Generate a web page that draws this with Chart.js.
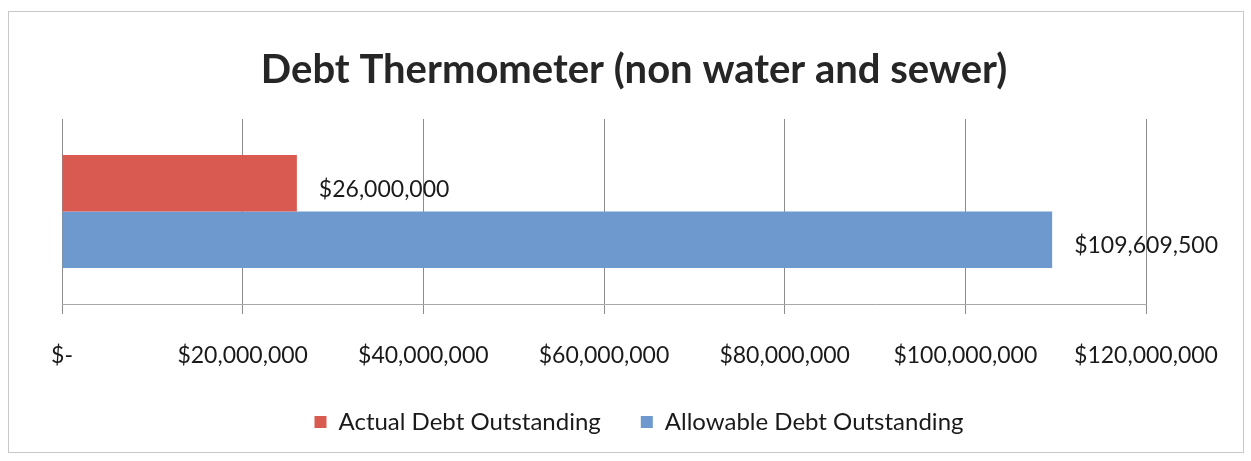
<!DOCTYPE html>
<html>
<head>
<meta charset="utf-8">
<script src="https://cdn.jsdelivr.net/npm/chart.js@4/dist/chart.umd.min.js"></script>
<style>
  html, body { margin: 0; padding: 0; background: #fff; }
  #wrap { position: relative; width: 1251px; height: 461px; }
  #frame { position: absolute; left: 8px; top: 11px; width: 1236px; height: 442px; border: 1px solid #c8c8c8; box-sizing: border-box; pointer-events: none; }
  canvas { position: absolute; left: 0; top: 0; }
</style>
</head>
<body>
<div id="wrap">
  <canvas id="c" width="1251" height="461"></canvas>
  <div id="frame"></div>
</div>
<script>
// Debt figures
const categories = ['Debt'];
const seriesNames = ['Actual Debt Outstanding', 'Allowable Debt Outstanding'];
const actualDebt = [26000000];
const allowableDebt = [109609500];
const tickValues = [0, 20000000, 40000000, 60000000, 80000000, 100000000, 120000000];
const tickLabels = ['$-', '$20,000,000', '$40,000,000', '$60,000,000', '$80,000,000', '$100,000,000', '$120,000,000'];

const FONT = 'Lato, "Open Sans", sans-serif';

const fmtMoney = v => '$' + Math.round(v).toLocaleString('en-US');

// Writes the dollar amount just past the end of each bar
const valueLabels = {
  id: 'valueLabels',
  afterDatasetsDraw(chart) {
    const ctx = chart.ctx;
    ctx.save();
    ctx.font = '23px ' + FONT;
    ctx.fillStyle = '#1a1a1a';
    ctx.textBaseline = 'middle';
    ctx.textAlign = 'left';
    chart.data.datasets.forEach((ds, i) => {
      chart.getDatasetMeta(i).data.forEach((bar, j) => {
        ctx.fillText(fmtMoney(ds.data[j]), bar.x + 22, bar.y + 6);
      });
    });
    ctx.restore();
  }
};

// Nudges the title and legend a little to the right of the plot's centre
const blockShift = {
  id: 'blockShift',
  afterLayout(chart) {
    if (chart.legend) chart.legend.left += 70;
    if (chart.titleBlock) chart.titleBlock.left += 60;
  }
};

new Chart(document.getElementById('c'), {
  type: 'bar',
  data: {
    labels: categories,
    datasets: [
      { label: seriesNames[0], data: actualDebt, backgroundColor: '#d95a50' },
      { label: seriesNames[1], data: allowableDebt, backgroundColor: '#6d99cf' }
    ]
  },
  options: {
    indexAxis: 'y',
    responsive: false,
    animation: false,
    layout: { padding: { left: 62, right: 105, top: 12, bottom: 17 } },
    datasets: { bar: { barPercentage: 1.0, categoryPercentage: 0.61 } },
    plugins: {
      title: {
        display: true,
        text: 'Debt Thermometer (non water and sewer)',
        color: '#262626',
        font: { family: FONT, size: 40, weight: 'bold' },
        padding: { top: 34, bottom: 25 }
      },
      legend: {
        position: 'bottom',
        labels: {
          color: '#1a1a1a',
          font: { family: FONT, size: 24 },
          boxWidth: 12,
          boxHeight: 12,
          padding: 40
        }
      },
      tooltip: { enabled: false }
    },
    scales: {
      x: {
        min: 0,
        max: 120000000,
        afterBuildTicks(axis) { axis.ticks = tickValues.map(v => ({ value: v })); },
        afterFit(axis) { axis.height = 66; },
        ticks: {
          color: '#1a1a1a',
          font: { family: FONT, size: 23 },
          padding: 28,
          maxRotation: 0,
          autoSkip: false,
          callback: (v, i) => tickLabels[i]
        },
        grid: { color: '#8c8c8c', lineWidth: 1, tickLength: 10, drawOnChartArea: true },
        border: { display: true, color: '#a8a8a8' }
      },
      y: {
        display: false
      }
    }
  },
  plugins: [valueLabels, blockShift]
});
</script>
</body>
</html>
